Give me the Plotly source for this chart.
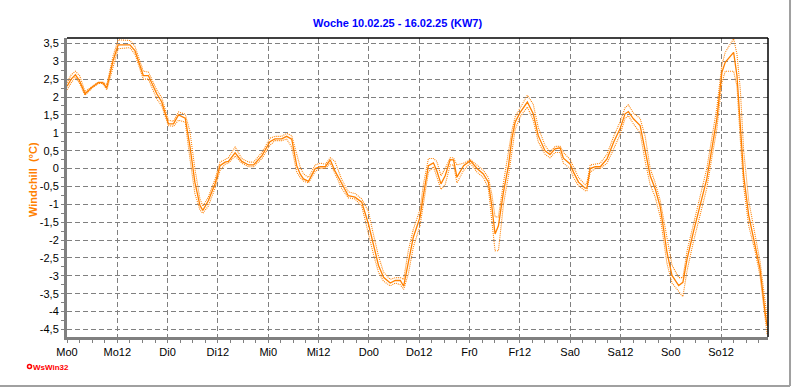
import plotly.graph_objects as go

# ---- data ----
hours = [0, 1, 2, 3, 4.3, 6, 7.5, 8.5, 9.5, 11, 12.2, 15, 16.2, 18.2, 19.4, 21.4, 22.6, 24.2, 25.4, 26.6,
         28.2, 29.3, 30.5, 31.7, 32.4, 33.7, 35.3, 36.5, 37.7, 38.5, 40.1, 41.7, 43.3, 44.5, 46.5, 48.4,
         49.6, 51.2, 52.4, 53.6, 54.8, 55.6, 56.4, 57.6, 59.2, 60.4, 61.6, 62.8, 63.9, 65.5, 67.1, 68.7,
         70.3, 71.9, 73.1, 74.3, 75.5, 77.1, 78.3, 79.5, 80.3, 81.4, 82.6, 83.8, 84.2, 85.0, 86.2, 87.4,
         88.2, 89.2, 90.2, 91.4, 92.2, 93.0, 94.6, 96.2, 97.8, 99.3, 100.5, 101.3, 102.1, 102.9, 104.1,
         105.3, 106.1, 106.9, 108.1, 109.8, 111.2, 112.4, 114.0, 115.2, 116.4, 117.6, 118.4, 120.0, 120.8,
         122.0, 123.6, 124.0, 124.8, 126.0, 127.2, 128.8, 130.4, 131.9, 133.1, 133.9, 135.1, 136.7, 137.9,
         139.1, 140.3, 141.5, 142.3, 143.1, 144.3, 145.9, 146.9, 147.9, 149.4, 151.0, 152.6, 153.8, 155.0,
         156.2, 157.0, 159.0, 159.8, 160.6, 161.4, 162.6, 164.2, 165.3, 166.5, 167.0]

windchill = [2.30, 2.50, 2.62, 2.45, 2.09, 2.28, 2.40, 2.40, 2.26, 3.02, 3.46, 3.46, 3.30, 2.60, 2.60, 2.09,
             1.86, 1.25, 1.25, 1.50, 1.41, 0.64, -0.38, -1.03, -1.17, -0.90, -0.43, 0.08, 0.18, 0.20, 0.44,
             0.20, 0.10, 0.10, 0.36, 0.75, 0.83, 0.83, 0.90, 0.82, 0.08, -0.15, -0.29, -0.36, 0.00, 0.05,
             0.05, 0.24, -0.06, -0.43, -0.76, -0.80, -0.94, -1.55, -2.15, -2.71, -3.04, -3.20, -3.13, -3.13,
             -3.29, -2.62, -1.92, -1.50, -1.36, -0.75, 0.08, 0.16, -0.06, -0.43, -0.20, 0.25, 0.24, -0.24,
             0.08, 0.22, 0.00, -0.15, -0.38, -1.03, -1.83, -1.60, -0.66, 0.08, 0.83, 1.30, 1.57, 1.86, 1.53,
             0.92, 0.50, 0.39, 0.55, 0.58, 0.29, 0.13, -0.10, -0.38, -0.55, -0.55, 0.00, 0.05, 0.05, 0.27,
             0.74, 1.11, 1.53, 1.59, 1.39, 1.20, 0.50, -0.20, -0.57, -1.08, -1.69, -2.34, -2.99, -3.27, -3.18,
             -2.53, -1.78, -1.03, -0.29, 0.55, 1.39, 2.69, 2.97, 3.25, 2.60, 1.20, -0.20, -1.31, -2.15, -2.81,
             -4.02, -4.40]

windchill_max = [2.40, 2.62, 2.72, 2.60, 2.15, 2.30, 2.42, 2.42, 2.35, 3.15, 3.60, 3.58, 3.42, 2.72, 2.70,
                 2.20, 1.98, 1.35, 1.32, 1.58, 1.52, 1.05, 0.00, -0.85, -1.05, -0.80, -0.30, 0.18, 0.25,
                 0.30, 0.60, 0.28, 0.18, 0.18, 0.45, 0.85, 0.90, 0.90, 0.98, 0.92, 0.40, 0.05, -0.15, -0.25,
                 0.10, 0.15, 0.12, 0.30, 0.20, -0.30, -0.65, -0.70, -0.85, -1.20, -1.85, -2.45, -2.90, -3.10,
                 -3.05, -3.05, -3.10, -2.30, -1.70, -1.30, -1.15, -0.45, 0.28, 0.28, 0.20, -0.20, 0.00, 0.30,
                 0.30, 0.10, 0.15, 0.25, 0.10, -0.05, -0.25, -0.70, -1.35, -1.35, -0.40, 0.40, 1.05, 1.45,
                 1.70, 2.05, 1.80, 1.15, 0.65, 0.45, 0.62, 0.62, 0.45, 0.25, 0.05, -0.25, -0.45, -0.40, 0.10,
                 0.12, 0.15, 0.40, 0.90, 1.30, 1.70, 1.78, 1.55, 1.40, 0.90, 0.00, -0.40, -0.90, -1.40, -2.00,
                 -2.70, -3.05, -3.05, -2.30, -1.55, -0.80, 0.00, 0.85, 1.70, 2.90, 3.25, 3.63, 3.20, 2.20,
                 0.50, -0.90, -1.95, -2.60, -3.70, -4.20]

windchill_min = [2.20, 2.40, 2.55, 2.38, 2.05, 2.25, 2.38, 2.38, 2.20, 2.85, 3.35, 3.38, 3.20, 2.50, 2.50,
                 1.95, 1.75, 1.20, 1.18, 1.35, 1.30, 0.30, -0.70, -1.15, -1.25, -1.05, -0.55, -0.05, 0.12,
                 0.15, 0.35, 0.15, 0.05, 0.05, 0.28, 0.65, 0.78, 0.78, 0.82, 0.60, -0.10, -0.25, -0.35, -0.40,
                 -0.08, 0.00, 0.00, 0.15, -0.15, -0.55, -0.82, -0.85, -1.05, -1.85, -2.40, -2.90, -3.15, -3.28,
                 -3.20, -3.25, -3.38, -2.95, -2.20, -1.75, -1.60, -1.00, -0.10, 0.05, -0.25, -0.58, -0.45, 0.10,
                 0.10, -0.40, -0.05, 0.15, -0.10, -0.25, -0.55, -1.40, -2.30, -2.30, -1.00, -0.20, 0.50, 1.10,
                 1.45, 1.72, 1.35, 0.75, 0.40, 0.30, 0.45, 0.45, 0.15, 0.00, -0.25, -0.48, -0.62, -0.62, -0.10,
                 0.00, 0.00, 0.15, 0.55, 0.95, 1.40, 1.48, 1.25, 1.00, 0.20, -0.45, -0.80, -1.35, -2.00, -2.65,
                 -3.20, -3.45, -3.58, -2.85, -2.05, -1.30, -0.55, 0.30, 1.10, 2.40, 2.72, 2.72, 2.30, 0.80,
                 -0.50, -1.60, -2.35, -3.00, -4.30, -4.65]

x_tick_vals = [0, 12, 24, 36, 48, 60, 72, 84, 96, 108, 120, 132, 144, 156]
x_tick_text = ["Mo0", "Mo12", "Di0", "Di12", "Mi0", "Mi12", "Do0", "Do12",
               "Fr0", "Fr12", "Sa0", "Sa12", "So0", "So12"]
y_tick_vals = [-4.5, -4, -3.5, -3, -2.5, -2, -1.5, -1, -0.5, 0, 0.5, 1, 1.5, 2, 2.5, 3, 3.5]
y_tick_text = ["-4,5", "-4", "-3,5", "-3", "-2,5", "-2", "-1,5", "-1", "-0,5", "0",
               "0,5", "1", "1,5", "2", "2,5", "3", "3,5"]

title_text = "Woche 10.02.25 - 16.02.25 (KW7)"
y_title = "Windchill  (°C)"

ORANGE = "#FF8000"
GRID = "#808080"

fig = go.Figure()
fig.add_trace(go.Scatter(x=hours, y=windchill_max, mode="lines",
                         line=dict(color=ORANGE, width=1.1, dash="1px,1px"), hoverinfo="skip"))
fig.add_trace(go.Scatter(x=hours, y=windchill_min, mode="lines",
                         line=dict(color=ORANGE, width=1.1, dash="1px,1px"), hoverinfo="skip"))
fig.add_trace(go.Scatter(x=hours, y=windchill, mode="lines",
                         line=dict(color=ORANGE, width=1.3), hoverinfo="skip"))

font_main = "Liberation Sans, Arial, sans-serif"

fig.update_layout(
    width=792, height=387,
    margin=dict(l=67, r=24, t=38, b=50),
    paper_bgcolor="white", plot_bgcolor="white",
    showlegend=False,
    font=dict(family=font_main, size=11, color="black"),
    xaxis=dict(range=[0, 167.2], tickmode="array", tickvals=x_tick_vals, ticktext=x_tick_text,
               showgrid=True, gridcolor=GRID, griddash="5px,3px", gridwidth=1,
               showline=True, linecolor=GRID, linewidth=3,
               ticks="outside", ticklen=3, tickcolor=GRID, tickwidth=1,
               minor=dict(tick0=0, dtick=3, ticks="outside", ticklen=3, tickcolor=GRID, showgrid=False),
               zeroline=False, tickfont=dict(size=11)),
    yaxis=dict(range=[-4.71, 3.65], tickmode="array", tickvals=y_tick_vals, ticktext=y_tick_text,
               showgrid=True, gridcolor=GRID, griddash="5px,3px", gridwidth=1,
               showline=True, linecolor=GRID, linewidth=3,
               ticks="outside", ticklen=3, tickcolor=GRID, tickwidth=1,
               minor=dict(tick0=0, dtick=0.25, ticks="outside", ticklen=3, tickcolor=GRID, showgrid=False),
               zeroline=False, tickfont=dict(size=11)),
    shapes=[
        dict(type="line", xref="paper", yref="paper", x0=0, x1=1, y0=1, y1=1,
             line=dict(color="black", width=1.5)),
        dict(type="line", xref="paper", yref="paper", x0=1, x1=1, y0=0, y1=1,
             line=dict(color="black", width=1.5)),
        # outer frame (bottom and right)
        dict(type="line", xref="paper", yref="paper", x0=-0.1, x1=1.0314, y0=-0.164, y1=-0.164,
             line=dict(color="#A0A0A0", width=2)),
        dict(type="line", xref="paper", yref="paper", x0=1.0314, x1=1.0314, y0=-0.164, y1=1.2,
             line=dict(color="#A0A0A0", width=2)),
        # small ring before WsWin32
        dict(type="circle", xref="paper", yref="paper",
             x0=(27.5 - 67) / 701, x1=(31.5 - 67) / 701, y0=(337 - 368.5) / 299, y1=(337 - 364.5) / 299,
             line=dict(color="red", width=1.5)),
    ],
    annotations=[
        dict(text="<b>" + title_text + "</b>", xref="paper", yref="paper",
             x=(397 - 67) / 701, y=1 + (38 - 23) / 299, xanchor="center", yanchor="middle",
             showarrow=False, font=dict(family=font_main, size=11, color="#0000FF")),
        dict(text="<b>" + y_title + "</b>", xref="paper", yref="paper",
             x=(33 - 67) / 701, y=(337 - 180) / 299, xanchor="center", yanchor="middle",
             textangle=-90, showarrow=False, font=dict(family=font_main, size=11, color=ORANGE)),
        dict(text="<b>WsWin32</b>", xref="paper", yref="paper",
             x=(31 - 67) / 701, y=(337 - 367) / 299, xanchor="left", yanchor="middle",
             showarrow=False, font=dict(family=font_main, size=8, color="red")),
    ],
)

fig.write_html("out.html", config={"displayModeBar": False},
               post_script="document.body.style.margin='0px';")
